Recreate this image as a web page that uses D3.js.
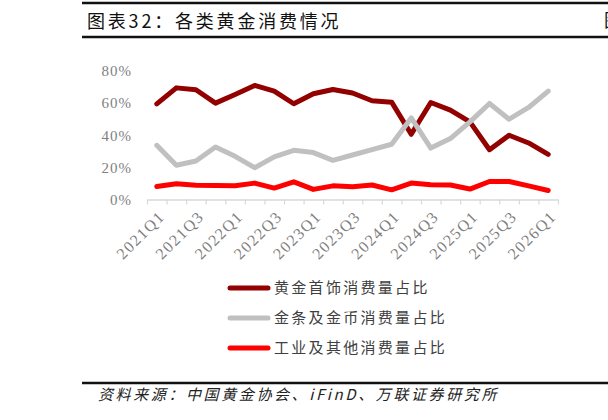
<!DOCTYPE html>
<html>
<head>
<meta charset="utf-8">
<script src="https://cdn.jsdelivr.net/npm/d3@7"></script>
<style>
  body { margin: 0; background: #fff; }
  svg { display: block; }
</style>
</head>
<body>
<svg width="608" height="420"></svg>
<script>
// quarters shown on the x axis
var quarters = ["2021Q1","2021Q2","2021Q3","2021Q4","2022Q1","2022Q2","2022Q3","2022Q4",
  "2023Q1","2023Q2","2023Q3","2023Q4","2024Q1","2024Q2","2024Q3","2024Q4",
  "2025Q1","2025Q2","2025Q3","2025Q4","2026Q1"];

// share of consumption, %
var jewelry = [59.5, 69.5, 68.3, 60, 65.4, 71, 67.5, 59.6, 65.8, 68.5, 66.3, 61.5, 60.6,
  40.6, 60.4, 55.6, 48.3, 31, 40, 35.2, 28.1];
var barCoin = [33.7, 21.3, 24, 32.7, 26.9, 19.8, 26.5, 30.6, 29.2, 24.4, 27.7, 31, 34.4,
  50.8, 32, 37.9, 48.3, 59.8, 50, 57.3, 67.5];
var industry = [8.1, 9.8, 8.8, 8.7, 8.5, 10.2, 7.1, 11, 6.3, 8.5, 7.9, 9, 6,
  10.2, 9.2, 9, 6.5, 11.2, 11.2, 8.5, 5.6];

var seriesNames = ["黄金首饰消费量占比", "金条及金币消费量占比", "工业及其他消费量占比"];
var seriesColors = ["#930000", "#c0c0c0", "#ff0000"];
var yTicks = [0, 20, 40, 60, 80];

var svg = d3.select("svg");

var x = d3.scaleBand().domain(quarters).range([147, 558]);
var y = d3.scaleLinear().domain([0, 80]).range([199.5, 71]);

// header rules and title
svg.append("line").attr("x1", 82).attr("x2", 608).attr("y1", 3).attr("y2", 3)
  .attr("stroke", "#111").attr("stroke-width", 2.5);
svg.append("line").attr("x1", 82).attr("x2", 608).attr("y1", 37).attr("y2", 37)
  .attr("stroke", "#111").attr("stroke-width", 2.5);
svg.append("text")
  .attr("x", 87).attr("y", 28)
  .attr("font-family", "'Noto Sans CJK SC'")
  .attr("font-size", 18)
  .attr("letter-spacing", 2.8)
  .attr("fill", "#111")
  .text("图表32：各类黄金消费情况");
// next chart's title peeking in at the right edge
svg.append("text")
  .attr("x", 604).attr("y", 27)
  .attr("font-family", "'Noto Sans CJK SC'")
  .attr("font-size", 18)
  .attr("fill", "#111")
  .text("图");

// y tick labels, no axis line
svg.append("g").selectAll("text")
  .data(yTicks)
  .enter().append("text")
  .attr("x", 132)
  .attr("y", function(d) { return y(d); })
  .attr("dy", "0.35em")
  .attr("text-anchor", "end")
  .attr("font-family", "'Liberation Serif'")
  .attr("font-size", 15)
  .attr("letter-spacing", 1)
  .attr("fill", "#7f7f7f")
  .text(function(d) { return d + "%"; });

// x axis: line + ticks at band edges
var edge = d3.scaleLinear().domain([0, quarters.length]).range(x.range());
var gx = svg.append("g")
  .attr("transform", "translate(0," + y(0) + ")")
  .call(d3.axisBottom(edge).tickValues(d3.range(quarters.length + 1)).tickSize(5).tickSizeOuter(0).tickFormat(""));
gx.select(".domain").attr("stroke", "#d9d9d9").attr("stroke-width", 1.5);
gx.selectAll(".tick line").attr("stroke", "#d9d9d9").attr("stroke-width", 1.2);

// x labels, every other quarter
var labelQuarters = quarters.filter(function(d, i) { return i % 2 == 0; });
svg.append("g").selectAll("text")
  .data(labelQuarters)
  .enter().append("text")
  .attr("transform", function(d) {
    return "translate(" + (x(d) + x.bandwidth() / 2 + 5) + "," + (y(0) + 14) + ") rotate(-45)";
  })
  .attr("text-anchor", "end")
  .attr("dy", "0.35em")
  .attr("font-family", "'Liberation Serif'")
  .attr("font-size", 16)
  .attr("letter-spacing", 1.5)
  .attr("fill", "#7f7f7f")
  .text(function(d) { return d; });

// lines
var line = d3.line()
  .x(function(d, i) { return x(quarters[i]) + x.bandwidth() / 2; })
  .y(function(d) { return y(d); });

[jewelry, barCoin, industry].forEach(function(s, k) {
  svg.append("path")
    .datum(s)
    .attr("d", line)
    .attr("fill", "none")
    .attr("stroke", seriesColors[k])
    .attr("stroke-width", 5)
    .attr("stroke-linejoin", "round")
    .attr("stroke-linecap", "round");
});

// legend
var legend = svg.append("g").selectAll("g")
  .data(seriesNames)
  .enter().append("g")
  .attr("transform", function(d, i) { return "translate(0," + (288 + i * 30) + ")"; });
legend.append("line")
  .attr("x1", 230).attr("x2", 268)
  .attr("stroke", function(d, i) { return seriesColors[i]; })
  .attr("stroke-width", 5)
  .attr("stroke-linecap", "round");
legend.append("text")
  .attr("x", 274)
  .attr("dy", "0.35em")
  .attr("font-family", "'Noto Sans CJK SC'")
  .attr("font-size", 15)
  .attr("letter-spacing", 2.3)
  .attr("fill", "#404040")
  .text(function(d) { return d; });

// footer
svg.append("line").attr("x1", 82).attr("x2", 608).attr("y1", 383).attr("y2", 383)
  .attr("stroke", "#111").attr("stroke-width", 2.5);
svg.append("text")
  .attr("x", 98).attr("y", 400)
  .attr("font-family", "'Noto Sans CJK SC'")
  .attr("font-size", 15)
  .attr("font-style", "italic")
  .attr("letter-spacing", 2.6)
  .attr("fill", "#222")
  .text("资料来源：中国黄金协会、iFinD、万联证券研究所");
</script>
</body>
</html>
